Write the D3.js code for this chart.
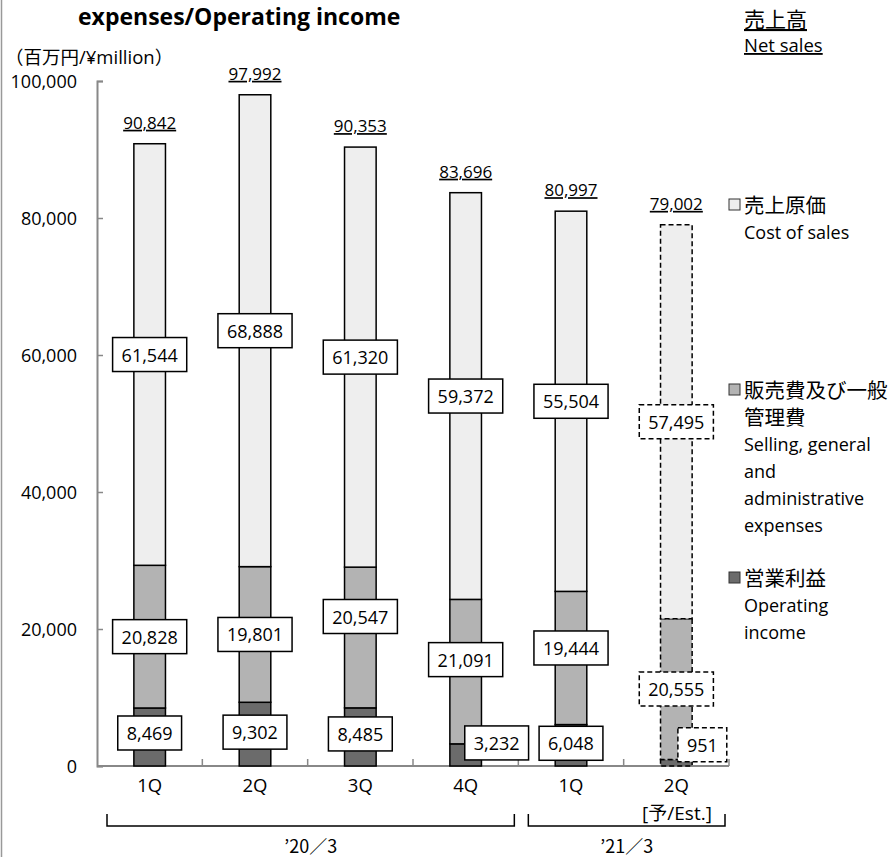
<!DOCTYPE html>
<html>
<head>
<meta charset="utf-8">
<script src="https://cdn.jsdelivr.net/npm/d3@7"></script>
<style>
  body { margin: 0; background: #fff; }
  text { font-family: "Open Sans", "Noto Sans CJK JP", sans-serif; fill: #000; }
</style>
</head>
<body>
<svg id="chart"></svg>
<script>
// Chart values (¥ million)
const quarters = ["1Q", "2Q", "3Q", "4Q", "1Q", "2Q"];
const netSales = [90842, 97992, 90353, 83696, 80997, 79002];
const costOfSales = [61544, 68888, 61320, 59372, 55504, 57495];
const sgaExpenses = [20828, 19801, 20547, 21091, 19444, 20555];
const operatingIncome = [8469, 9302, 8485, 3232, 6048, 951];
const isEstimate = [false, false, false, false, false, true];
const yTicks = [0, 20000, 40000, 60000, 80000, 100000];
const fiscalYears = ["’20／3", "’21／3"];
const fiscalFirst = [0, 4];
const fiscalLast = [3, 5];

// Constants
const width = 891;
const height = 857;
const plot = { left: 97, right: 729, top: 81, bottom: 766 };
const colors = { cogs: "#eeeeee", sga: "#b3b3b3", oi: "#6b6b6b" };

// manual label nudges (px) like the original Excel layout
const sgaLabelDy = [0, 0, -21, -12, -10, 0];
const oiLabelDy = [-4, -2, -3, -12, -2, -18];
const oiLabelDx = [0, 0, 0, 31, 0, 26];

const svg = d3.select("#chart").attr("width", width).attr("height", height);

// left page border
svg.append("line")
    .attr("x1", 1.5).attr("x2", 1.5).attr("y1", 0).attr("y2", height)
    .attr("stroke", "#999").attr("stroke-width", 1.5);

// build table for stacking
const table = quarters.map((q, i) => ({
    i: i,
    oi: operatingIncome[i],
    sga: sgaExpenses[i],
    cogs: costOfSales[i]
}));
const keys = ["oi", "sga", "cogs"];
const series = d3.stack().keys(keys)(table);

const xScale = d3.scaleBand()
    .domain(d3.range(quarters.length))
    .range([plot.left, plot.right])
    .padding(0);
const barW = xScale.bandwidth() * 0.3;
const cx = i => xScale(i) + xScale.bandwidth() / 2;

const yScale = d3.scaleLinear()
    .domain([0, 100000])
    .range([plot.bottom, plot.top]);

// axes
const yAxis = svg.append("g")
    .attr("transform", `translate(${plot.left},0)`)
    .call(d3.axisRight(yScale).tickValues(yTicks).tickSize(6).tickFormat(""));
yAxis.select(".domain").attr("stroke", "#888").attr("stroke-width", 2);
yAxis.selectAll(".tick line").attr("stroke", "#888").attr("stroke-width", 1.5);

svg.selectAll(".ytick").data(yTicks).enter().append("text")
    .attr("x", 77)
    .attr("y", d => yScale(d) + 6.5)
    .attr("text-anchor", "end")
    .style("font-size", "18px")
    .text(d => d3.format(",")(d));

svg.append("line")
    .attr("x1", plot.left).attr("x2", plot.right)
    .attr("y1", plot.bottom).attr("y2", plot.bottom)
    .attr("stroke", "#888").attr("stroke-width", 2);
svg.selectAll(".xtick").data(d3.range(1, quarters.length + 1)).enter().append("line")
    .attr("x1", d => plot.left + d * xScale.step())
    .attr("x2", d => plot.left + d * xScale.step())
    .attr("y1", plot.bottom).attr("y2", plot.bottom - 7)
    .attr("stroke", "#888").attr("stroke-width", 1.5);

// stacked bars
series.forEach(s => {
    svg.append("g").selectAll("rect").data(s).enter().append("rect")
        .attr("x", (d, i) => cx(i) - barW / 2)
        .attr("y", d => yScale(d[1]))
        .attr("width", barW)
        .attr("height", d => yScale(d[0]) - yScale(d[1]))
        .attr("fill", colors[s.key])
        .attr("stroke", "#000")
        .attr("stroke-width", 1.5)
        .attr("stroke-dasharray", (d, i) => isEstimate[i] ? "5,3" : null);
});

// boxed data labels
function boxLabel(x, y, txt, dashed) {
    const g = svg.append("g");
    const t = g.append("text")
        .attr("x", x).attr("y", y + 7)
        .attr("text-anchor", "middle")
        .style("font-size", "18px")
        .text(txt);
    const w = t.node().getComputedTextLength() + 18;
    g.insert("rect", "text")
        .attr("x", x - w / 2).attr("y", y - 17)
        .attr("width", w).attr("height", 34)
        .attr("fill", "#fff")
        .attr("stroke", "#000")
        .attr("stroke-width", 1.5)
        .attr("stroke-dasharray", dashed ? "5,3" : null);
}

const fmt = d3.format(",");
series.forEach(s => {
    s.forEach((d, i) => {
        let y = yScale((d[0] + d[1]) / 2);
        let x = cx(i);
        if (s.key === "sga") y += sgaLabelDy[i];
        if (s.key === "oi") { y += oiLabelDy[i]; x += oiLabelDx[i]; }
        boxLabel(x, y, fmt(d.data[s.key]), isEstimate[i]);
    });
});

// net sales totals
svg.selectAll(".total").data(netSales).enter().append("text")
    .attr("x", (d, i) => cx(i))
    .attr("y", d => yScale(d) - 15)
    .attr("text-anchor", "middle")
    .style("font-size", "17px")
    .style("text-decoration", "underline")
    .text(d => fmt(d));

// category labels
svg.selectAll(".cat").data(quarters).enter().append("text")
    .attr("x", (d, i) => cx(i))
    .attr("y", 792)
    .attr("text-anchor", "middle")
    .style("font-size", "18.5px")
    .text(d => d);
svg.append("text")
    .attr("x", 677).attr("y", 820)
    .attr("text-anchor", "middle")
    .style("font-size", "19px")
    .text("[予/Est.]");

// fiscal year brackets
fiscalYears.forEach((label, k) => {
    const x0 = xScale(fiscalFirst[k]) + 10;
    const x1 = xScale(fiscalLast[k]) + xScale.bandwidth() - 4;
    svg.append("path")
        .attr("d", `M${x0},814V826H${x1}V814`)
        .attr("fill", "none")
        .attr("stroke", "#000")
        .attr("stroke-width", 1.5);
    svg.append("text")
        .attr("x", (x0 + x1) / 2).attr("y", 853)
        .attr("text-anchor", "middle")
        .style("font-family", "'Noto Sans CJK JP', sans-serif")
        .style("font-size", "18px")
        .text(label);
});

// titles
svg.append("text")
    .attr("x", 78).attr("y", 25)
    .style("font-size", "23px")
    .style("font-weight", "bold")
    .text("expenses/Operating income");
svg.append("text")
    .attr("x", 5).attr("y", 64)
    .style("font-size", "18.5px")
    .text("（百万円/¥million）");

// legend
svg.append("text").attr("x", 744).attr("y", 27)
    .style("font-size", "21px").style("text-decoration", "underline").text("売上高");
svg.append("text").attr("x", 744).attr("y", 52)
    .style("font-size", "18.5px").style("text-decoration", "underline").text("Net sales");

const legendItems = [
    { key: "cogs", y: 205, lines: ["売上原価"], sub: ["Cost of sales"] },
    { key: "sga", y: 390, lines: ["販売費及び一般", "管理費"], sub: ["Selling, general", "and", "administrative", "expenses"] },
    { key: "oi", y: 578, lines: ["営業利益"], sub: ["Operating", "income"] }
];
legendItems.forEach(item => {
    svg.append("rect")
        .attr("x", 729).attr("y", item.y - 6)
        .attr("width", 11).attr("height", 11)
        .attr("fill", colors[item.key])
        .attr("stroke", "#333").attr("stroke-width", 1);
    let yy = item.y + 8;
    item.lines.forEach(l => {
        svg.append("text").attr("x", 744).attr("y", yy)
            .style("font-size", "20.5px").text(l);
        yy += 27;
    });
    item.sub.forEach(l => {
        svg.append("text").attr("x", 744).attr("y", yy - 1)
            .style("font-size", "18px").text(l);
        yy += 27;
    });
});
</script>
</body>
</html>
